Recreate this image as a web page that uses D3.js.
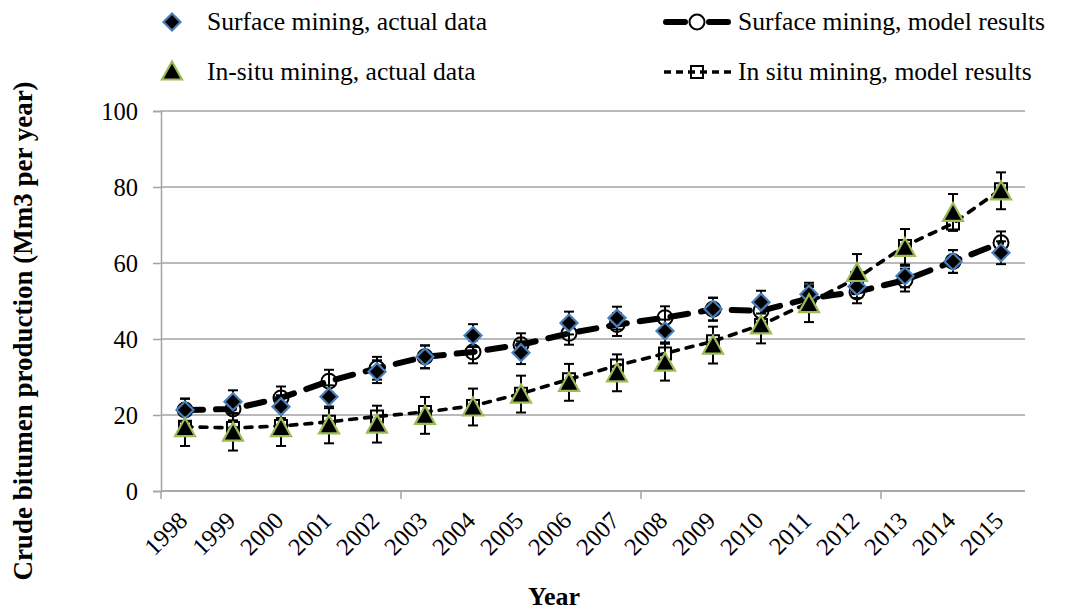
<!DOCTYPE html>
<html>
<head>
<meta charset="utf-8">
<script src="https://cdn.jsdelivr.net/npm/d3@7/dist/d3.min.js"></script>
<style>
  html, body { margin: 0; padding: 0; background: #fff; }
  svg { display: block; font-family: "Liberation Serif", "Times New Roman", serif; }
  svg text { font-family: "Liberation Serif", "Times New Roman", serif; }
</style>
</head>
<body>
<svg id="chart" width="1066" height="611"></svg>
<script>
// Crude bitumen production, Alberta oil sands, 1998-2015 (Mm3 per year)
const years = [1998, 1999, 2000, 2001, 2002, 2003, 2004, 2005, 2006, 2007, 2008, 2009, 2010, 2011, 2012, 2013, 2014, 2015];

const surfaceActual = [21.3, 23.5, 22.2, 24.8, 31.4, 35.3, 40.9, 36.4, 44.2, 45.5, 42.1, 47.9, 49.7, 51.8, 53.8, 56.6, 60.4, 62.7];
const surfaceModel  = [21.3, 21.6, 24.5, 28.9, 32.3, 35.3, 36.6, 38.5, 41.5, 43.8, 45.6, 47.8, 47.4, 50.7, 52.4, 55.5, 60.4, 65.3];
const insituActual  = [16.7, 15.5, 16.7, 17.4, 17.6, 19.9, 22.1, 25.5, 28.6, 31.1, 33.9, 38.4, 43.7, 49.3, 57.5, 64.1, 73.3, 79.0];
const insituModel   = [16.9, 16.6, 17.1, 18.2, 19.6, 20.8, 22.4, 25.6, 29.4, 33.0, 36.2, 39.4, 43.7, 49.6, 56.0, 64.5, 70.4, 79.4];

// error bar half-widths
const surfaceActualErr = years.map(() => 3);
const surfaceModelErr  = years.map(() => 3);
const insituActualErr  = years.map(() => 4.85);

const yTicks = [0, 20, 40, 60, 80, 100];

const legendLabels = [
  "Surface mining, actual data",
  "Surface mining, model results",
  "In-situ mining, actual data",
  "In situ mining, model results"
];

const svg = d3.select("#chart");
const margin = { left: 161, right: 1025, top: 111, bottom: 491 };

const x = d3.scaleBand().domain(years).range([margin.left, margin.right]).padding(0);
const y = d3.scaleLinear().domain([0, 100]).range([margin.bottom, margin.top]);
const cx = yr => x(yr) + x.bandwidth() / 2;

const gridColor = "#a3a3a3";

// horizontal gridlines
svg.append("g")
  .selectAll("line")
  .data(yTicks)
  .join("line")
  .attr("x1", margin.left).attr("x2", margin.right)
  .attr("y1", d => y(d)).attr("y2", d => y(d))
  .attr("stroke", gridColor).attr("stroke-width", 1.5);

// y axis
const yAxis = svg.append("g")
  .attr("transform", `translate(${margin.left},0)`)
  .call(d3.axisLeft(y).tickValues(yTicks).tickSize(8).tickPadding(6).tickFormat(d3.format("d")));
yAxis.attr("font-family", "Liberation Serif");
yAxis.select(".domain").attr("stroke", gridColor).attr("stroke-width", 1.5);
yAxis.selectAll(".tick line").attr("stroke", gridColor).attr("stroke-width", 1.5);
yAxis.selectAll(".tick text")
  .attr("font-size", 24.5).attr("fill", "#000")
  .attr("x", -23).attr("dy", "0.33em");

// x axis: line, tick marks every five years on band edges, rotated labels
const xg = svg.append("g").attr("font-family", "Liberation Serif");
xg.append("line")
  .attr("x1", margin.left).attr("x2", margin.right)
  .attr("y1", margin.bottom).attr("y2", margin.bottom)
  .attr("stroke", gridColor).attr("stroke-width", 1.5);
xg.selectAll("line.tk")
  .data(years.filter((d, i) => i % 5 === 0))
  .join("line").attr("class", "tk")
  .attr("x1", d => x(d)).attr("x2", d => x(d))
  .attr("y1", margin.bottom).attr("y2", margin.bottom + 8)
  .attr("stroke", gridColor).attr("stroke-width", 1.5);
xg.selectAll("text")
  .data(years)
  .join("text")
  .attr("transform", d => `translate(${cx(d) + 4},${margin.bottom + 31}) rotate(-45)`)
  .attr("text-anchor", "end")
  .attr("font-size", 24.5)
  .attr("fill", "#000")
  .text(d => d);

// axis titles
svg.append("text")
  .attr("transform", "translate(32,331) rotate(-90)")
  .attr("text-anchor", "middle")
  .attr("font-size", 27).attr("font-weight", "bold")
  .text("Crude bitumen production (Mm3 per year)");
svg.append("text")
  .attr("x", 554).attr("y", 605)
  .attr("text-anchor", "middle")
  .attr("font-size", 26).attr("font-weight", "bold")
  .text("Year");

// line styles for the model series
const surfaceLineStyle = { width: 6, dash: "18 13" };
const insituLineStyle  = { width: 3.6, dash: "7 8" };

const line = d3.line().x(d => cx(d.year)).y(d => y(d.v));
const rows = arr => years.map((yr, i) => ({ year: yr, v: arr[i] }));

svg.append("path")
  .attr("d", line(rows(surfaceModel)))
  .attr("fill", "none").attr("stroke", "#000")
  .attr("stroke-width", surfaceLineStyle.width)
  .attr("stroke-dasharray", surfaceLineStyle.dash)
  .attr("stroke-linecap", "round");
svg.append("path")
  .attr("d", line(rows(insituModel)))
  .attr("fill", "none").attr("stroke", "#000")
  .attr("stroke-width", insituLineStyle.width)
  .attr("stroke-dasharray", insituLineStyle.dash)
  .attr("stroke-linecap", "round");

// error bars
function errorBars(values, errs) {
  const g = svg.append("g").attr("stroke", "#000").attr("stroke-width", 2);
  years.forEach((yr, i) => {
    const px = cx(yr), top = y(values[i] + errs[i]), bot = y(values[i] - errs[i]);
    g.append("line").attr("x1", px).attr("x2", px).attr("y1", top).attr("y2", bot);
    g.append("line").attr("x1", px - 5).attr("x2", px + 5).attr("y1", top).attr("y2", top);
    g.append("line").attr("x1", px - 5).attr("x2", px + 5).attr("y1", bot).attr("y2", bot);
  });
}
errorBars(surfaceModel, surfaceModelErr);
errorBars(surfaceActual, surfaceActualErr);
errorBars(insituActual, insituActualErr);

// marker shapes
const diamondPath = r => `M0,${-r}L${r},0L0,${r}L${-r},0Z`;
const trianglePath = (w, h) => `M0,${-h / 2 - 1}L${w / 2},${h / 2}L${-w / 2},${h / 2}Z`;
const squarePath = s => `M${-s / 2},${-s / 2}h${s}v${s}h${-s}Z`;

function drawCircle(g, px, py, fill) {
  g.append("circle").attr("cx", px).attr("cy", py).attr("r", 7.5)
    .attr("fill", fill).attr("stroke", "#000").attr("stroke-width", 2);
}
function drawSquare(g, px, py, fill) {
  g.append("path").attr("d", squarePath(12)).attr("transform", `translate(${px},${py})`)
    .attr("fill", fill).attr("stroke", "#000").attr("stroke-width", 2);
}
function drawDiamond(g, px, py) {
  g.append("path").attr("d", diamondPath(8.5)).attr("transform", `translate(${px},${py})`)
    .attr("fill", "#000").attr("stroke", "#4a7ebb").attr("stroke-width", 2.2);
}
function drawTriangle(g, px, py) {
  g.append("path").attr("d", trianglePath(20, 17)).attr("transform", `translate(${px},${py})`)
    .attr("fill", "#000").attr("stroke", "#9bbb59").attr("stroke-width", 2.2);
}

const mk = svg.append("g");
years.forEach((yr, i) => drawCircle(mk, cx(yr), y(surfaceModel[i]), "none"));
years.forEach((yr, i) => drawSquare(mk, cx(yr), y(insituModel[i]), "none"));
years.forEach((yr, i) => drawDiamond(mk, cx(yr), y(surfaceActual[i])));
years.forEach((yr, i) => drawTriangle(mk, cx(yr), y(insituActual[i])));

// legend
const lg = svg.append("g").attr("font-size", 25.6).attr("fill", "#000");
drawDiamond(lg, 172, 22);
lg.append("text").attr("x", 207).attr("y", 30).text(legendLabels[0]);
drawTriangle(lg, 172, 71);
lg.append("text").attr("x", 207).attr("y", 80).text(legendLabels[2]);

lg.append("line").attr("x1", 666).attr("x2", 728).attr("y1", 22).attr("y2", 22)
  .attr("stroke", "#000").attr("stroke-width", surfaceLineStyle.width)
  .attr("stroke-dasharray", "19 24").attr("stroke-linecap", "round");
drawCircle(lg, 697, 22, "#fff");
lg.append("text").attr("x", 738).attr("y", 30).text(legendLabels[1]);

lg.append("line").attr("x1", 664).attr("x2", 734).attr("y1", 72).attr("y2", 72)
  .attr("stroke", "#000").attr("stroke-width", insituLineStyle.width)
  .attr("stroke-dasharray", "7 5").attr("stroke-linecap", "butt");
drawSquare(lg, 697, 72, "none");
lg.append("text").attr("x", 738).attr("y", 80).text(legendLabels[3]);
</script>
</body>
</html>
